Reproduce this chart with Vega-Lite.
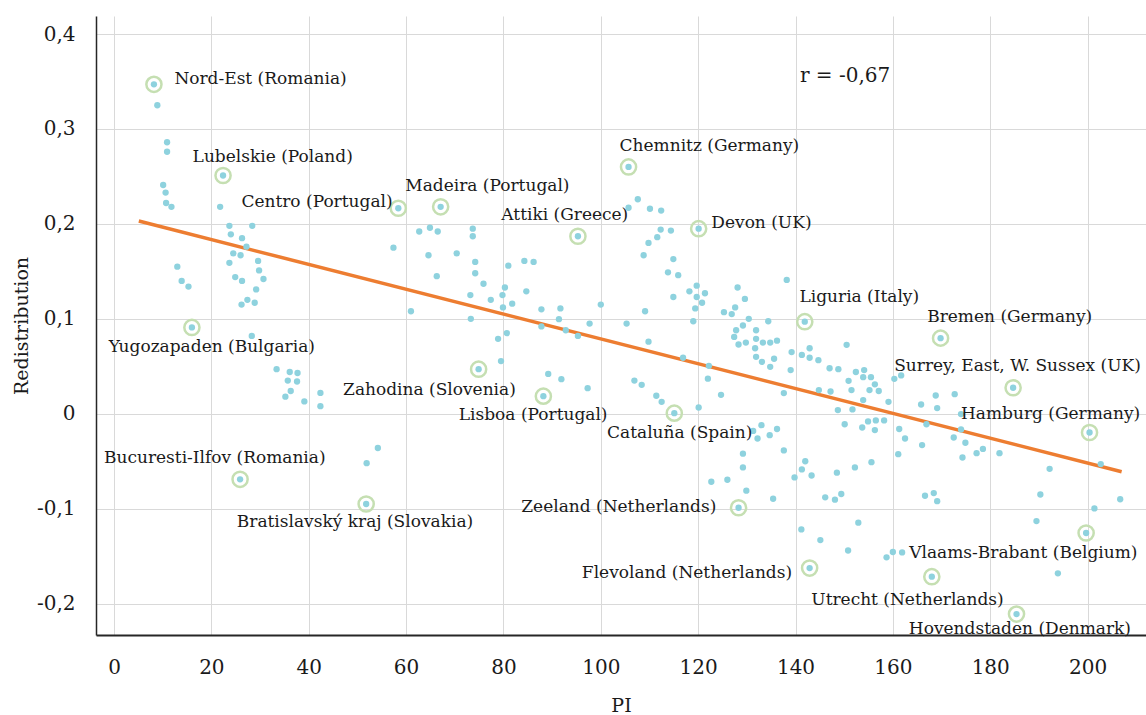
{
  "$schema": "https://vega.github.io/schema/vega-lite/v6.json",
  "width": 1050,
  "height": 619,
  "autosize": {"type": "none"},
  "padding": {"left": 96, "top": 16, "right": 0, "bottom": 80},
  "background": "white",
  "config": {
    "view": {"stroke": null},
    "font": "DejaVu Serif",
    "axis": {
      "labelFont": "DejaVu Serif",
      "titleFont": "DejaVu Serif",
      "labelFontSize": 20,
      "titleFontSize": 19,
      "titleFontWeight": "normal",
      "labelColor": "#1a1a1a",
      "titleColor": "#1a1a1a",
      "gridColor": "#d9d9d9",
      "gridWidth": 1,
      "ticks": false,
      "domainColor": "#262626"
    }
  },
  "datasets": {
    "regions": [
      {"PI": 8.2, "R": 0.347, "name": "Nord-Est (Romania)"},
      {"PI": 22.4, "R": 0.251, "name": "Lubelskie (Poland)"},
      {"PI": 58.4, "R": 0.2165, "name": "Centro (Portugal)"},
      {"PI": 67.1, "R": 0.218, "name": "Madeira (Portugal)"},
      {"PI": 95.3, "R": 0.187, "name": "Attiki (Greece)"},
      {"PI": 105.7, "R": 0.26, "name": "Chemnitz (Germany)"},
      {"PI": 120.1, "R": 0.195, "name": "Devon (UK)"},
      {"PI": 141.9, "R": 0.097, "name": "Liguria (Italy)"},
      {"PI": 169.8, "R": 0.0797, "name": "Bremen (Germany)"},
      {"PI": 184.7, "R": 0.0274, "name": "Surrey, East, W. Sussex (UK)"},
      {"PI": 200.4, "R": -0.0197, "name": "Hamburg (Germany)"},
      {"PI": 199.7, "R": -0.1256, "name": "Vlaams-Brabant (Belgium)"},
      {"PI": 168.0, "R": -0.1716, "name": "Utrecht (Netherlands)"},
      {"PI": 185.4, "R": -0.211, "name": "Hovendstaden (Denmark)"},
      {"PI": 142.9, "R": -0.1625, "name": "Flevoland (Netherlands)"},
      {"PI": 128.3, "R": -0.099, "name": "Zeeland (Netherlands)"},
      {"PI": 115.1, "R": 0.0007, "name": "Cataluña (Spain)"},
      {"PI": 88.2, "R": 0.0186, "name": "Lisboa (Portugal)"},
      {"PI": 74.9, "R": 0.047, "name": "Zahodina (Slovenia)"},
      {"PI": 16.0, "R": 0.091, "name": "Yugozapaden (Bulgaria)"},
      {"PI": 25.9, "R": -0.069, "name": "Bucuresti-Ilfov (Romania)"},
      {"PI": 51.8, "R": -0.095, "name": "Bratislavský kraj (Slovakia)"},
      {"PI": 8.9, "R": 0.325}, {"PI": 10.9, "R": 0.286}, {"PI": 10.9, "R": 0.276},
      {"PI": 10.1, "R": 0.241}, {"PI": 10.6, "R": 0.233}, {"PI": 10.7, "R": 0.222},
      {"PI": 11.8, "R": 0.218}, {"PI": 21.8, "R": 0.218}, {"PI": 23.7, "R": 0.198},
      {"PI": 28.4, "R": 0.198}, {"PI": 24.0, "R": 0.189}, {"PI": 26.3, "R": 0.185},
      {"PI": 27.2, "R": 0.176}, {"PI": 13.0, "R": 0.155}, {"PI": 13.9, "R": 0.14},
      {"PI": 15.3, "R": 0.134}, {"PI": 24.5, "R": 0.169}, {"PI": 26.0, "R": 0.167},
      {"PI": 23.7, "R": 0.159}, {"PI": 29.6, "R": 0.161}, {"PI": 29.8, "R": 0.151},
      {"PI": 24.9, "R": 0.144}, {"PI": 26.3, "R": 0.14}, {"PI": 30.7, "R": 0.142},
      {"PI": 29.2, "R": 0.131}, {"PI": 27.4, "R": 0.12}, {"PI": 26.2, "R": 0.115},
      {"PI": 28.9, "R": 0.117}, {"PI": 28.3, "R": 0.082}, {"PI": 33.4, "R": 0.047},
      {"PI": 36.1, "R": 0.044}, {"PI": 37.7, "R": 0.043}, {"PI": 35.7, "R": 0.035},
      {"PI": 37.6, "R": 0.034}, {"PI": 36.3, "R": 0.024}, {"PI": 35.2, "R": 0.018},
      {"PI": 39.1, "R": 0.013}, {"PI": 42.4, "R": 0.022}, {"PI": 42.4, "R": 0.008},
      {"PI": 51.9, "R": -0.052}, {"PI": 54.2, "R": -0.036}, {"PI": 57.4, "R": 0.175},
      {"PI": 62.7, "R": 0.192}, {"PI": 64.9, "R": 0.196}, {"PI": 66.5, "R": 0.192},
      {"PI": 64.6, "R": 0.167}, {"PI": 70.4, "R": 0.169}, {"PI": 66.3, "R": 0.145},
      {"PI": 61.0, "R": 0.108}, {"PI": 73.7, "R": 0.195}, {"PI": 73.7, "R": 0.187},
      {"PI": 74.2, "R": 0.16}, {"PI": 74.2, "R": 0.148}, {"PI": 75.9, "R": 0.137},
      {"PI": 73.2, "R": 0.125}, {"PI": 73.3, "R": 0.1}, {"PI": 81.0, "R": 0.156},
      {"PI": 80.3, "R": 0.133}, {"PI": 79.8, "R": 0.125}, {"PI": 77.4, "R": 0.12},
      {"PI": 79.9, "R": 0.112}, {"PI": 81.8, "R": 0.116}, {"PI": 84.3, "R": 0.161},
      {"PI": 86.2, "R": 0.16}, {"PI": 84.7, "R": 0.129}, {"PI": 87.8, "R": 0.11},
      {"PI": 91.7, "R": 0.111}, {"PI": 91.4, "R": 0.0997}, {"PI": 87.8, "R": 0.092},
      {"PI": 92.8, "R": 0.088}, {"PI": 95.3, "R": 0.082}, {"PI": 97.7, "R": 0.095},
      {"PI": 100.0, "R": 0.115}, {"PI": 105.3, "R": 0.095}, {"PI": 78.9, "R": 0.079},
      {"PI": 80.7, "R": 0.085}, {"PI": 109.1, "R": 0.108}, {"PI": 109.8, "R": 0.076},
      {"PI": 79.5, "R": 0.0555}, {"PI": 89.2, "R": 0.042}, {"PI": 91.9, "R": 0.0365},
      {"PI": 97.3, "R": 0.027}, {"PI": 116.9, "R": 0.059}, {"PI": 122.2, "R": 0.0505},
      {"PI": 122.0, "R": 0.037}, {"PI": 124.7, "R": 0.02}, {"PI": 120.1, "R": 0.0066},
      {"PI": 106.9, "R": 0.035}, {"PI": 108.4, "R": 0.0305}, {"PI": 111.4, "R": 0.019},
      {"PI": 112.5, "R": 0.0126}, {"PI": 107.6, "R": 0.226}, {"PI": 105.7, "R": 0.217},
      {"PI": 110.1, "R": 0.216}, {"PI": 112.4, "R": 0.214}, {"PI": 112.3, "R": 0.194},
      {"PI": 114.4, "R": 0.193}, {"PI": 111.6, "R": 0.186}, {"PI": 109.8, "R": 0.18},
      {"PI": 108.8, "R": 0.167}, {"PI": 114.9, "R": 0.163}, {"PI": 113.8, "R": 0.149},
      {"PI": 115.9, "R": 0.146}, {"PI": 114.9, "R": 0.123}, {"PI": 119.7, "R": 0.135},
      {"PI": 118.2, "R": 0.129}, {"PI": 119.7, "R": 0.123}, {"PI": 121.4, "R": 0.127},
      {"PI": 120.8, "R": 0.117}, {"PI": 119.4, "R": 0.111}, {"PI": 119.0, "R": 0.0975},
      {"PI": 128.1, "R": 0.133}, {"PI": 129.6, "R": 0.121}, {"PI": 125.3, "R": 0.107},
      {"PI": 126.9, "R": 0.105}, {"PI": 127.6, "R": 0.112}, {"PI": 130.4, "R": 0.1},
      {"PI": 134.4, "R": 0.0975}, {"PI": 129.2, "R": 0.093}, {"PI": 127.8, "R": 0.088},
      {"PI": 131.9, "R": 0.088}, {"PI": 127.4, "R": 0.081}, {"PI": 131.9, "R": 0.079},
      {"PI": 129.8, "R": 0.075}, {"PI": 128.3, "R": 0.073}, {"PI": 133.3, "R": 0.075},
      {"PI": 134.8, "R": 0.075}, {"PI": 136.2, "R": 0.077}, {"PI": 131.7, "R": 0.069},
      {"PI": 131.9, "R": 0.06}, {"PI": 133.1, "R": 0.0547}, {"PI": 134.8, "R": 0.0495},
      {"PI": 135.6, "R": 0.058}, {"PI": 131.3, "R": -0.018}, {"PI": 133.0, "R": -0.012},
      {"PI": 132.2, "R": -0.026}, {"PI": 134.7, "R": -0.0225}, {"PI": 136.2, "R": -0.016},
      {"PI": 129.2, "R": -0.042}, {"PI": 129.2, "R": -0.0565}, {"PI": 122.7, "R": -0.0716},
      {"PI": 126.0, "R": -0.0695}, {"PI": 129.9, "R": -0.081}, {"PI": 135.4, "R": -0.0895},
      {"PI": 138.2, "R": 0.141}, {"PI": 142.9, "R": 0.069}, {"PI": 150.5, "R": 0.0726},
      {"PI": 139.2, "R": 0.065}, {"PI": 141.3, "R": 0.062}, {"PI": 142.9, "R": 0.059},
      {"PI": 144.7, "R": 0.0565}, {"PI": 139.0, "R": 0.046}, {"PI": 147.0, "R": 0.048},
      {"PI": 148.8, "R": 0.047}, {"PI": 152.4, "R": 0.044}, {"PI": 154.1, "R": 0.046},
      {"PI": 153.9, "R": 0.0386}, {"PI": 155.5, "R": 0.0386}, {"PI": 156.3, "R": 0.031},
      {"PI": 150.9, "R": 0.0347}, {"PI": 151.5, "R": 0.025}, {"PI": 155.2, "R": 0.025},
      {"PI": 157.1, "R": 0.024}, {"PI": 144.8, "R": 0.025}, {"PI": 147.2, "R": 0.0235},
      {"PI": 153.9, "R": 0.0144}, {"PI": 151.7, "R": 0.0046}, {"PI": 148.7, "R": 0.0039},
      {"PI": 159.1, "R": 0.0126}, {"PI": 160.3, "R": 0.0368}, {"PI": 161.7, "R": 0.0404},
      {"PI": 137.6, "R": 0.0218}, {"PI": 137.6, "R": -0.0386}, {"PI": 150.1, "R": -0.011},
      {"PI": 153.7, "R": -0.0144}, {"PI": 154.9, "R": -0.008}, {"PI": 156.5, "R": -0.007},
      {"PI": 158.2, "R": -0.007}, {"PI": 156.3, "R": -0.0172}, {"PI": 161.3, "R": -0.016},
      {"PI": 162.5, "R": -0.026}, {"PI": 161.1, "R": -0.0425}, {"PI": 166.0, "R": -0.033},
      {"PI": 165.8, "R": 0.0098}, {"PI": 168.8, "R": 0.0193}, {"PI": 169.1, "R": 0.006},
      {"PI": 172.7, "R": 0.0207}, {"PI": 174.0, "R": -0.0003}, {"PI": 166.9, "R": -0.011},
      {"PI": 174.0, "R": -0.0165}, {"PI": 172.5, "R": -0.025}, {"PI": 174.9, "R": -0.0305},
      {"PI": 174.3, "R": -0.046}, {"PI": 177.2, "R": -0.0415}, {"PI": 178.5, "R": -0.037},
      {"PI": 181.9, "R": -0.0415}, {"PI": 202.7, "R": -0.053}, {"PI": 192.2, "R": -0.058},
      {"PI": 190.3, "R": -0.085}, {"PI": 206.7, "R": -0.09}, {"PI": 201.4, "R": -0.0997},
      {"PI": 189.5, "R": -0.113}, {"PI": 193.9, "R": -0.168}, {"PI": 139.8, "R": -0.067},
      {"PI": 141.3, "R": -0.0586}, {"PI": 142.0, "R": -0.05}, {"PI": 143.3, "R": -0.065},
      {"PI": 148.5, "R": -0.062}, {"PI": 152.2, "R": -0.0565}, {"PI": 155.6, "R": -0.051},
      {"PI": 146.1, "R": -0.088}, {"PI": 148.1, "R": -0.0905}, {"PI": 149.4, "R": -0.0845},
      {"PI": 166.6, "R": -0.0863}, {"PI": 168.4, "R": -0.0835}, {"PI": 169.1, "R": -0.092},
      {"PI": 141.2, "R": -0.1218}, {"PI": 145.1, "R": -0.133}, {"PI": 152.9, "R": -0.1147},
      {"PI": 150.8, "R": -0.144}, {"PI": 158.7, "R": -0.1512}, {"PI": 160.0, "R": -0.1456},
      {"PI": 161.9, "R": -0.146}
    ],
    "trend": [
      {"PI": 5.1, "R": 0.203},
      {"PI": 207.0, "R": -0.061}
    ],
    "labels": [
      {"name": "Nord-Est (Romania)", "PI": 30.1, "R": 0.353},
      {"name": "Lubelskie (Poland)", "PI": 32.6, "R": 0.2705},
      {"name": "Centro (Portugal)", "PI": 41.7, "R": 0.223},
      {"name": "Madeira (Portugal)", "PI": 76.7, "R": 0.24},
      {"name": "Attiki (Greece)", "PI": 92.6, "R": 0.2095},
      {"name": "Chemnitz (Germany)", "PI": 122.3, "R": 0.282},
      {"name": "Devon (UK)", "PI": 133.0, "R": 0.201},
      {"name": "Liguria (Italy)", "PI": 153.1, "R": 0.123},
      {"name": "Bremen (Germany)", "PI": 184.0, "R": 0.102},
      {"name": "Surrey, East, W. Sussex (UK)", "PI": 185.6, "R": 0.0505},
      {"name": "Hamburg (Germany)", "PI": 192.4, "R": 0.0},
      {"name": "Vlaams-Brabant (Belgium)", "PI": 186.8, "R": -0.1463},
      {"name": "Utrecht (Netherlands)", "PI": 163.0, "R": -0.1958},
      {"name": "Hovendstaden (Denmark)", "PI": 186.1, "R": -0.2263},
      {"name": "Flevoland (Netherlands)", "PI": 117.7, "R": -0.168},
      {"name": "Zeeland (Netherlands)", "PI": 103.7, "R": -0.098},
      {"name": "Cataluña (Spain)", "PI": 116.2, "R": -0.02},
      {"name": "Lisboa (Portugal)", "PI": 86.1, "R": -0.001},
      {"name": "Zahodina (Slovenia)", "PI": 64.8, "R": 0.0253},
      {"name": "Yugozapaden (Bulgaria)", "PI": 20.1, "R": 0.0705},
      {"name": "Bucuresti-Ilfov (Romania)", "PI": 20.7, "R": -0.0463},
      {"name": "Bratislavský kraj (Slovakia)", "PI": 49.5, "R": -0.1137}
    ],
    "stat": [
      {"text": "r = -0,67", "PI": 140.9, "R": 0.356}
    ]
  },
  "encoding": {
    "x": {
      "field": "PI",
      "type": "quantitative",
      "scale": {"domain": [-3.7, 212], "nice": false, "zero": false},
      "axis": {
        "title": "PI",
        "values": [0, 20, 40, 60, 80, 100, 120, 140, 160, 180, 200],
        "labelPadding": 22,
        "titlePadding": 19,
        "domainWidth": 2
      }
    },
    "y": {
      "field": "R",
      "type": "quantitative",
      "scale": {"domain": [-0.233, 0.419], "nice": false, "zero": false},
      "axis": {
        "title": "Redistribution",
        "values": [-0.2, -0.1, 0, 0.1, 0.2, 0.3, 0.4],
        "labelExpr": "replace(replace(format(datum.value, '.1~f'), '.', ','), '\u2212', '-')",
        "labelPadding": 21,
        "titlePadding": 5,
        "domainWidth": 1.5
      }
    }
  },
  "layer": [
    {
      "data": {"name": "trend"},
      "mark": {"type": "line", "color": "#ED7D31", "strokeWidth": 3.5},
      "encoding": {}
    },
    {
      "data": {"name": "regions"},
      "transform": [{"filter": "datum.name != null"}],
      "mark": {"type": "point", "shape": "circle", "filled": false, "size": 230, "stroke": "#C5DFB2", "strokeWidth": 2.5, "opacity": 1},
      "encoding": {}
    },
    {
      "data": {"name": "regions"},
      "mark": {"type": "circle", "size": 40, "color": "#8ED2DE", "opacity": 1},
      "encoding": {}
    },
    {
      "data": {"name": "labels"},
      "mark": {"type": "text", "font": "DejaVu Serif", "fontSize": 17, "color": "#1a1a1a", "align": "center", "baseline": "middle"},
      "encoding": {"text": {"field": "name"}}
    },
    {
      "data": {"name": "stat"},
      "mark": {"type": "text", "font": "DejaVu Serif", "fontSize": 20, "color": "#1a1a1a", "align": "left", "baseline": "middle"},
      "encoding": {"text": {"field": "text"}}
    }
  ]
}
